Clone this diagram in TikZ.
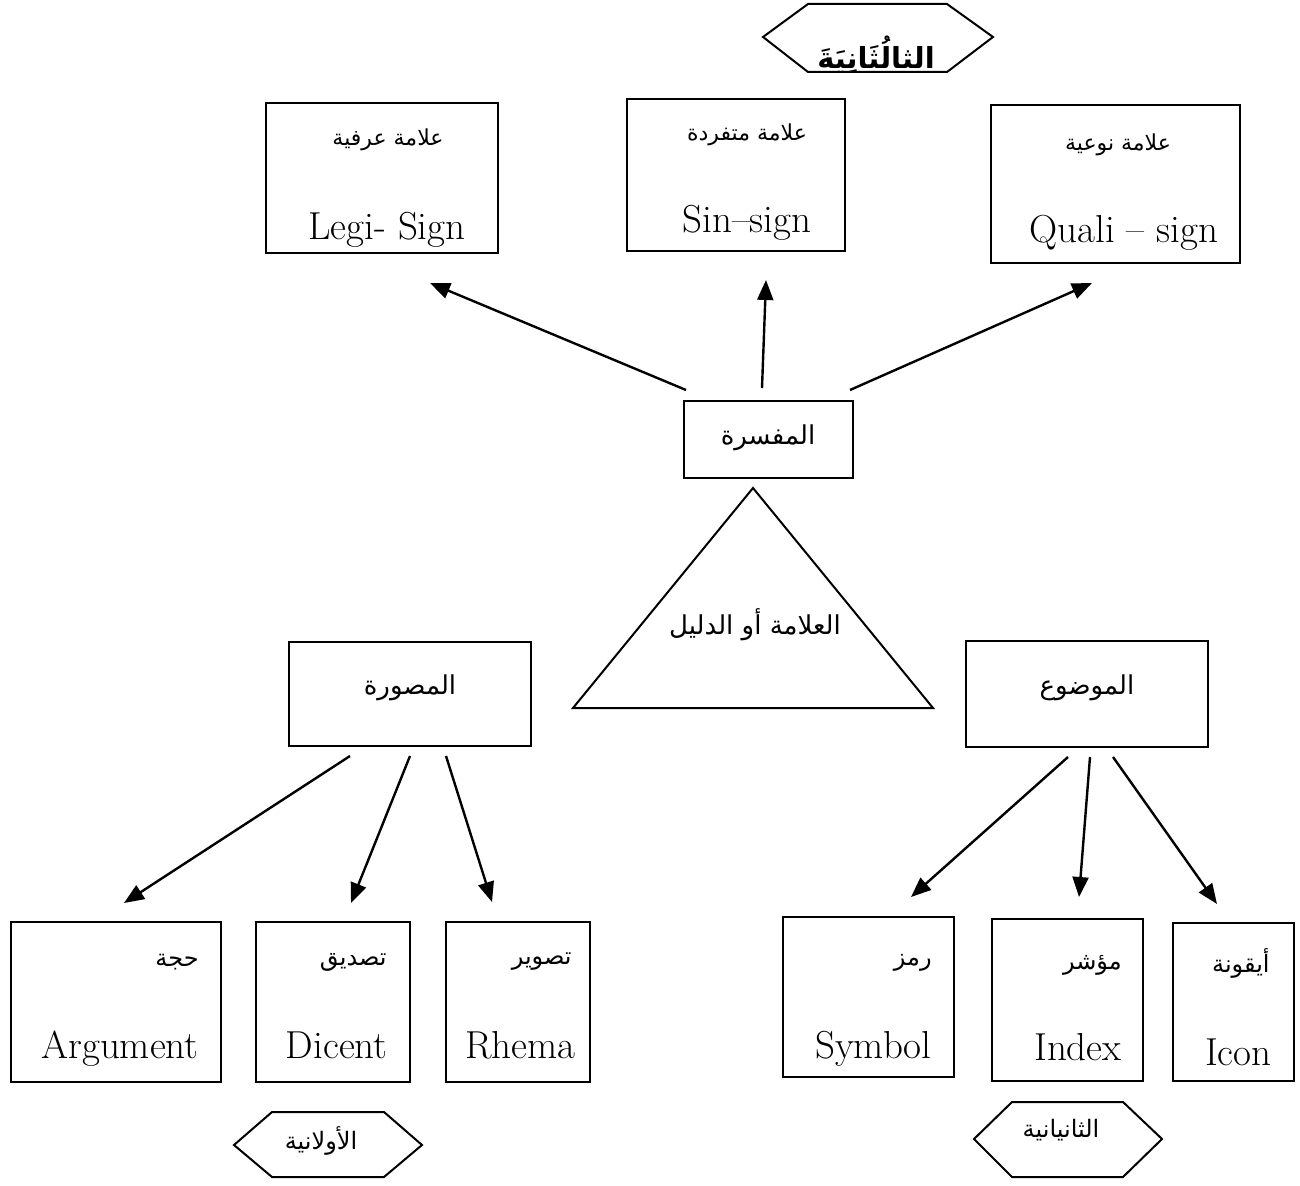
\documentclass[tikz,border=0pt]{standalone}
\usepackage{fontspec}
\newfontfamily\ar[Script=Arabic]{DejaVu Sans}
\TeXXeTstate=1
\usetikzlibrary{arrows.meta,fit}
\newcommand\AR[1]{\beginR #1\endR}
\begin{document}
\begin{tikzpicture}[x=0.5pt,y=-0.5pt,
  box/.style={draw, line width=1pt, inner sep=0pt},
  shp/.style={draw, line width=1pt, line join=miter},
  arr/.style={line width=1.2pt, -{Triangle[length=10pt,width=8pt]}},
  lat/.style={font=\fontsize{19.5}{22}\selectfont, inner sep=0pt},
  arab/.style={font=\ar\fontsize{11}{13}\selectfont, inner sep=0pt},
  arabb/.style={font=\ar\fontsize{12}{14}\selectfont, inner sep=0pt},
  arabm/.style={font=\ar\fontsize{13}{15}\selectfont, inner sep=0pt},
  hexlab/.style={font=\ar\fontsize{12}{14}\selectfont, inner sep=0pt}]
\useasboundingbox (0,0) rectangle (1300,1186);

% top hexagon
\draw[shp] (763,37) -- (808,4) -- (947,4) -- (993,37) -- (947,72) -- (808,72) -- cycle;
\node[font=\ar\bfseries\fontsize{14.5}{17}\selectfont, inner sep=0pt] (third) at (876,55) {\AR{الثالُثَانِيَةَ}};

% top boxes
\node[box, fit={(266,103) (498,253)}] (legi) {};
\node[arab] (legiA) at (388,140) {\AR{علامة عرفية}};
\node[lat, anchor=base] (legiL) at (387,240) {Legi- Sign};

\node[box, fit={(627,99) (845,251)}] (sin) {};
\node[arab] (sinA) at (747,135) {\AR{علامة متفردة}};
\node[lat, anchor=base] (sinL) at (747,233) {Sin–sign};

\node[box, fit={(991,105) (1240,263)}] (quali) {};
\node[arab] (qualiA) at (1118,145) {\AR{علامة نوعية}};
\node[lat, anchor=base] (qualiL) at (1124,243) {Quali – sign};

% interpretant
\node[box, fit={(684,401) (853,478)}] (interp) {};
\node[arabm] (interpA) at (768,438) {\AR{المفسرة}};

% triangle
\draw[shp] (753,488) -- (933,708) -- (573,708) -- cycle;
\node[arabm] (signA) at (755,625) {\AR{العلامة أو الدليل}};

% representamen / object
\node[box, fit={(289,642) (531,746)}] (rep) {};
\node[arabm] (repA) at (410,688) {\AR{المصورة}};
\node[box, fit={(966,641) (1208,747)}] (obj) {};
\node[arabm] (objA) at (1087,688) {\AR{الموضوع}};

% bottom left boxes
\node[box, fit={(11,922) (221,1082)}] (argu) {};
\node[arabb, anchor=east] (arguA) at (199,962) {\AR{حجة}};
\node[lat, anchor=base east] (arguL) at (199,1058) {Argument};

\node[box, fit={(256,922) (410,1082)}] (dic) {};
\node[arabb, anchor=east] (dicA) at (387,962) {\AR{تصديق}};
\node[lat, anchor=base east] (dicL) at (388,1058) {Dicent};

\node[box, fit={(446,922) (590,1082)}] (rhe) {};
\node[arabb, anchor=east] (rheA) at (572,962) {\AR{تصوير}};
\node[lat, anchor=base east] (rheL) at (576,1058) {Rhema};

% bottom right boxes
\node[box, fit={(783,917) (954,1077)}] (sym) {};
\node[arabb, anchor=east] (symA) at (932,963) {\AR{رمز}};
\node[lat, anchor=base east] (symL) at (932,1058) {Symbol};

\node[box, fit={(992,919) (1143,1081)}] (ind) {};
\node[arabb, anchor=east] (indA) at (1122,965) {\AR{مؤشر}};
\node[lat, anchor=base east] (indL) at (1122,1060) {Index};

\node[box, fit={(1173,923) (1294,1081)}] (ico) {};
\node[arabb, anchor=east] (icoA) at (1270,963) {\AR{أيقونة}};
\node[lat, anchor=base east] (icoL) at (1272,1065) {Icon};

% bottom hexagons
\draw[shp] (234,1145) -- (272,1112) -- (384,1112) -- (422,1145) -- (384,1177) -- (272,1177) -- cycle;
\node[hexlab] (first) at (321,1141) {\AR{الأولانية}};
\draw[shp] (974,1139) -- (1012,1102) -- (1123,1102) -- (1162,1139) -- (1123,1177) -- (1012,1177) -- cycle;
\node[hexlab] (second) at (1061,1130) {\AR{الثانيانية}};

% arrow endpoints
\coordinate (s1) at (686,390);  \coordinate (e1) at (430,283);
\coordinate (s2) at (762,388);  \coordinate (e2) at (766,280);
\coordinate (s3) at (850,390);  \coordinate (e3) at (1092,283);
\coordinate (s4) at (350,756);  \coordinate (e4) at (124,903);
\coordinate (s5) at (410,756);  \coordinate (e5) at (351,903);
\coordinate (s6) at (446,756);  \coordinate (e6) at (492,902);
\coordinate (s7) at (1068,757); \coordinate (e7) at (911,897);
\coordinate (s8) at (1090,757); \coordinate (e8) at (1079,897);
\coordinate (s9) at (1113,757); \coordinate (e9) at (1217,904);

\draw[arr] (s1) -- (e1);
\draw[arr] (s2) -- (e2);
\draw[arr] (s3) -- (e3);
\draw[arr] (s4) -- (e4);
\draw[arr] (s5) -- (e5);
\draw[arr] (s6) -- (e6);
\draw[arr] (s7) -- (e7);
\draw[arr] (s8) -- (e8);
\draw[arr] (s9) -- (e9);
\end{tikzpicture}
\end{document}
